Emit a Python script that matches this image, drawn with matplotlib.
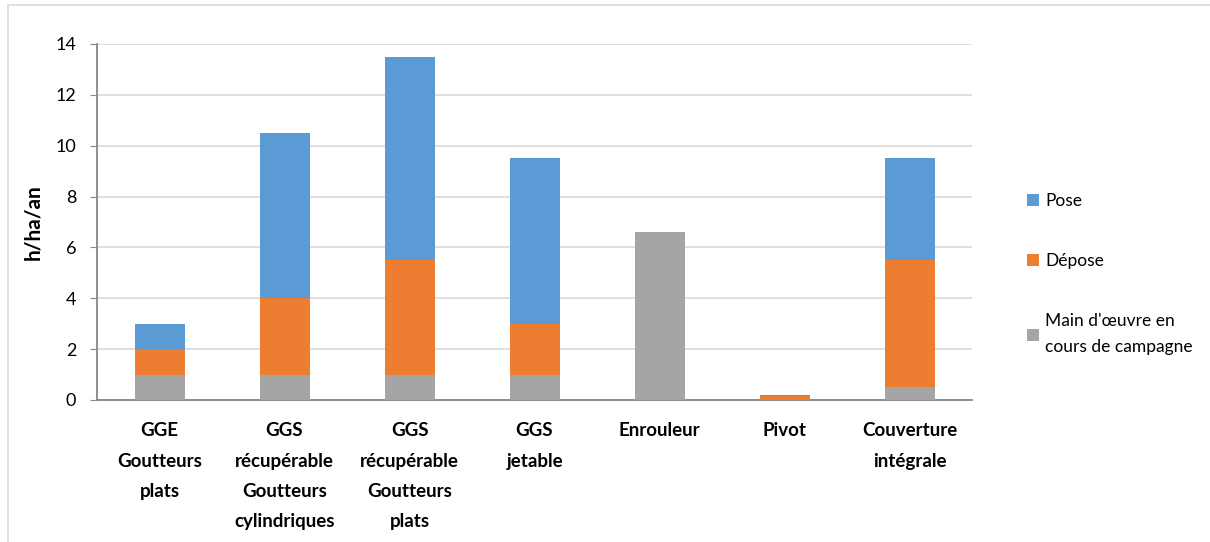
import numpy as np
import matplotlib
matplotlib.use("Agg")
import matplotlib.pyplot as plt
from matplotlib.patches import Rectangle

plt.rcParams['font.family'] = ['Lato', 'DejaVu Sans']

# Data
categories = ["GGE\nGoutteurs\nplats",
              "GGS\nrécupérable\nGoutteurs\ncylindriques",
              "GGS\nrécupérable\nGoutteurs\nplats",
              "GGS\njetable",
              "Enrouleur",
              "Pivot",
              "Couverture\nintégrale"]
main_oeuvre = [1.0, 1.0, 1.0, 1.0, 6.6, 0.0, 0.5]
depose = [1.0, 3.0, 4.5, 2.0, 0.0, 0.15, 5.0]
pose = [1.0, 6.5, 8.0, 6.5, 0.0, 0.04, 4.0]

c_pose = '#5B9BD5'
c_depose = '#ED7D31'
c_main = '#A5A5A5'

fig = plt.figure(figsize=(12.10, 5.42), dpi=100)
ax = fig.add_axes([97/1210, 1-400/542, 875/1210, 356/542])

x = np.arange(len(categories))
w = 0.4
main = np.array(main_oeuvre)
dep = np.array(depose)
b1 = ax.bar(x, main, w, color=c_main, label="Main d'œuvre en\ncours de campagne", zorder=3)
b2 = ax.bar(x, dep, w, bottom=main, color=c_depose, label='Dépose', zorder=3)
b3 = ax.bar(x, pose, w, bottom=main + dep, color=c_pose, label='Pose', zorder=3)

ax.set_xlim(-0.5, len(categories) - 0.5)
ax.set_ylim(0, 14)
ax.set_yticks(np.arange(0, 15, 2))
ax.yaxis.grid(True, color='#D9D9D9', linewidth=1.2, zorder=0)
ax.set_axisbelow(True)

ax.set_xticks(x)
ax.set_xticklabels(categories, fontsize=13.5, fontweight='bold', linespacing=1.95)
ax.tick_params(axis='x', length=0, pad=16)
ax.tick_params(axis='y', labelsize=13, length=5, color='#868686', pad=10)
ax.set_ylabel('h/ha/an', fontsize=15, fontweight='bold', labelpad=9)

for s in ['top', 'right']:
    ax.spines[s].set_visible(False)
for s in ['left', 'bottom']:
    ax.spines[s].set_color('#868686')
    ax.spines[s].set_linewidth(1.3)

leg = fig.legend(handles=[b3, b2, b1], loc='upper left',
                 bbox_to_anchor=(1020/1210, 1-186/542), frameon=False,
                 fontsize=12.5, labelspacing=2.55, handlelength=0.7,
                 handleheight=0.7, handletextpad=0.35, borderaxespad=0)
leg.get_texts()[2].set_linespacing(1.75)

fig.patches.append(Rectangle((8/1210, -0.1), 1.2, 1 - 5/542 + 0.1,
                             transform=fig.transFigure, fill=False,
                             edgecolor='#D9D9D9', linewidth=1.2))

fig.savefig('out.png', dpi=100)
